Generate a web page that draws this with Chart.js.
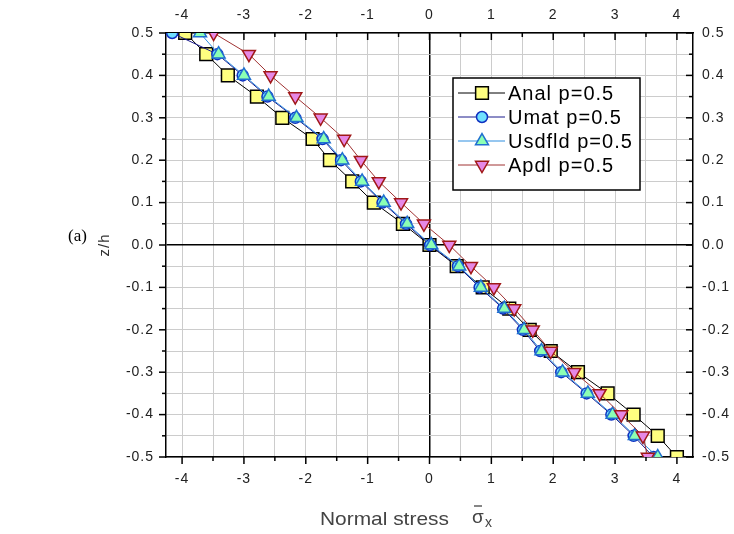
<!DOCTYPE html>
<html>
<head>
<meta charset="utf-8">
<script src="https://cdn.jsdelivr.net/npm/chart.js@4.4.0/dist/chart.umd.min.js"></script>
<style>
  html, body { margin: 0; padding: 0; background: #fff; }
</style>
</head>
<body>
<canvas id="myChart" width="734" height="534"></canvas>
<script>
// posiciones z/h (de arriba a abajo)
var zh = [0.5, 0.45, 0.4, 0.35, 0.3, 0.25, 0.2, 0.15, 0.1, 0.05, 0, -0.05, -0.1, -0.15, -0.2, -0.25, -0.3, -0.35, -0.4, -0.45, -0.5];

// valores de tension normal de cada serie
var anal   = [-3.95, -3.61, -3.26, -2.79, -2.38, -1.89, -1.61, -1.25, -0.90, -0.43, 0.00, 0.44, 0.86, 1.29, 1.62, 1.96, 2.40, 2.88, 3.30, 3.69, 4.00];
var umat   = [-4.16, -3.43, -3.02, -2.62, -2.17, -1.73, -1.43, -1.11, -0.76, -0.38, 0.01, 0.46, 0.81, 1.19, 1.51, 1.79, 2.13, 2.54, 2.94, 3.30, 3.62];
var usdfld = [-3.71, -3.41, -3.00, -2.60, -2.15, -1.71, -1.41, -1.09, -0.74, -0.36, 0.03, 0.48, 0.83, 1.21, 1.53, 1.81, 2.15, 2.56, 2.96, 3.32, 3.69];
var apdl   = [-3.49, -2.92, -2.57, -2.17, -1.76, -1.38, -1.11, -0.82, -0.46, -0.09, 0.32, 0.67, 1.04, 1.37, 1.67, 1.96, 2.34, 2.75, 3.10, 3.45, 3.53];

// etiquetas de los ejes
var xLabels = [-4, -3, -2, -1, 0, 1, 2, 3, 4];
var yLabels = [-0.5, -0.4, -0.3, -0.2, -0.1, 0, 0.1, 0.2, 0.3, 0.4, 0.5];

function puntos(valores) {
    return zh.map(function (z, i) { return { x: valores[i], y: z }; });
}

function etiquetaX(v) {
    var r = Math.round(v * 100) / 100;
    return xLabels.indexOf(r) >= 0 ? String(r) : '';
}
function etiquetaY(v) {
    var r = Math.round(v * 100) / 100;
    if (yLabels.indexOf(r) < 0) return '';
    return r === 0 ? '0.0' : r.toFixed(1);
}
function esCero(ctx) {
    return ctx.tick && Math.abs(ctx.tick.value) < 1e-9;
}

var fuenteTicks = { family: 'Arial, "Liberation Sans", sans-serif', size: 14 };

// marcas de los ejes (mayores y menores)
var marcas = {
    id: 'marcas',
    beforeDatasetsDraw: function (chart) {
        var c = chart.ctx, a = chart.chartArea;
        c.save();
        c.strokeStyle = '#000';
        c.lineWidth = 1.5;
        ['x', 'x2', 'y', 'y2'].forEach(function (id) {
            var s = chart.scales[id];
            s.ticks.forEach(function (t) {
                var f = id[0] === 'x' ? 1 : 10;
                var mayor = Math.abs(t.value * f - Math.round(t.value * f)) < 1e-6;
                var L = mayor ? 7 : 4;
                var p = s.getPixelForValue(t.value);
                c.beginPath();
                if (id === 'x')  { c.moveTo(p, a.bottom); c.lineTo(p, a.bottom + L); }
                if (id === 'x2') { c.moveTo(p, a.top);    c.lineTo(p, a.top + L); }
                if (id === 'y')  { c.moveTo(a.left, p);   c.lineTo(a.left - L, p); }
                if (id === 'y2') { c.moveTo(a.right, p);  c.lineTo(a.right - L, p); }
                c.stroke();
            });
        });
        c.restore();
    }
};

// leyenda dentro del area, titulo del eje x y etiqueta (a)
var extras = {
    id: 'extras',
    beforeDraw: function (chart) {
        chart.ctx.letterSpacing = '1px';
    },
    afterDraw: function (chart) {
        var c = chart.ctx, a = chart.chartArea;
        c.save();
        c.letterSpacing = '0px';

        // caja de la leyenda
        var bx = a.left + 287, by = a.top + 45, bw = 187, bh = 112;
        c.fillStyle = '#fff';
        c.fillRect(bx, by, bw, bh);
        c.strokeStyle = '#000';
        c.lineWidth = 1.5;
        c.strokeRect(bx, by, bw, bh);

        chart.data.datasets.forEach(function (ds, i) {
            var y = by + 15 + i * 24;
            c.strokeStyle = ds.borderColor;
            c.lineWidth = 1;
            c.beginPath();
            c.moveTo(bx + 5, y);
            c.lineTo(bx + 52, y);
            c.stroke();
            c.fillStyle = ds.pointBackgroundColor;
            c.strokeStyle = ds.pointBorderColor;
            c.lineWidth = ds.pointBorderWidth;
            Chart.helpers.drawPoint(c, {
                pointStyle: ds.pointStyle,
                rotation: ds.pointRotation || 0,
                radius: ds.pointRadius,
                borderWidth: ds.pointBorderWidth
            }, bx + 29, y);
            c.fillStyle = '#000';
            c.font = '20px Arial, "Liberation Sans", sans-serif';
            c.textBaseline = 'middle';
            c.textAlign = 'left';
            c.letterSpacing = '1px';
            c.fillText(ds.label, bx + 55, y + 1);
            c.letterSpacing = '0px';
        });

        // titulo del eje x
        c.fillStyle = '#444';
        c.textBaseline = 'alphabetic';
        c.save();
        c.translate(320, 525);
        c.scale(1.1, 1);
        c.font = '19px Arial, "Liberation Sans", sans-serif';
        c.fillText('Normal stress', 0, 0);
        c.restore();
        c.font = '19px Arial, "Liberation Sans", sans-serif';
        c.fillText('\u03C3', 472, 523);
        c.strokeStyle = '#444';
        c.lineWidth = 1.3;
        c.beginPath();
        c.moveTo(474, 506);
        c.lineTo(482, 506);
        c.stroke();
        c.font = '14px Arial, "Liberation Sans", sans-serif';
        c.fillText('x', 485, 527);

        // etiqueta (a)
        c.fillStyle = '#000';
        c.font = '17px "Times New Roman", "Liberation Serif", serif';
        c.textBaseline = 'middle';
        c.fillText('(a)', 68, 237);
        c.restore();
    }
};

var ctx = document.getElementById('myChart').getContext('2d');
var myChart = new Chart(ctx, {
    type: 'scatter',
    data: {
        datasets: [{
            label: 'Anal p=0.5',
            data: puntos(anal),
            showLine: true,
            borderColor: '#000000',
            borderWidth: 1,
            pointStyle: 'rect',
            pointRadius: 9,
            pointBackgroundColor: '#ffff80',
            pointBorderColor: '#000000',
            pointBorderWidth: 1.5,
            order: 4
        }, {
            label: 'Umat p=0.5',
            data: puntos(umat),
            showLine: true,
            borderColor: '#1a1a8c',
            borderWidth: 1,
            pointStyle: 'circle',
            pointRadius: 5.5,
            pointBackgroundColor: '#70e0ff',
            pointBorderColor: '#1030c0',
            pointBorderWidth: 1.5,
            order: 3
        }, {
            label: 'Usdfld p=0.5',
            data: puntos(usdfld),
            showLine: true,
            borderColor: '#2f8fe0',
            borderWidth: 1,
            pointStyle: 'triangle',
            pointRadius: 7.5,
            pointBackgroundColor: '#8cffb4',
            pointBorderColor: '#1f6fd0',
            pointBorderWidth: 1.5,
            order: 2
        }, {
            label: 'Apdl p=0.5',
            data: puntos(apdl),
            showLine: true,
            borderColor: '#a03232',
            borderWidth: 1,
            pointStyle: 'triangle',
            pointRotation: 180,
            pointRadius: 7.5,
            pointBackgroundColor: '#e688e6',
            pointBorderColor: '#a01818',
            pointBorderWidth: 1.5,
            order: 1
        }]
    },
    options: {
        responsive: false,
        animation: false,
        layout: { padding: { left: 92, right: 0, top: 0, bottom: 0 } },
        elements: { line: { tension: 0 } },
        plugins: { legend: { display: false }, tooltip: { enabled: false } },
        scales: {
            x: {
                type: 'linear', position: 'bottom', min: -4.26, max: 4.26,
                ticks: { stepSize: 0.5, includeBounds: false, autoSkip: false, maxRotation: 0, padding: 14,
                         color: '#222', font: fuenteTicks, callback: etiquetaX },
                grid: { drawTicks: false,
                        color: function (c) { return esCero(c) ? '#000' : '#cccccc'; },
                        lineWidth: function (c) { return esCero(c) ? 1.5 : 1; } },
                border: { color: '#000', width: 1.5 },
                afterFit: function (s) { s.height = 77; }
            },
            x2: {
                type: 'linear', position: 'top', min: -4.26, max: 4.26,
                ticks: { stepSize: 0.5, includeBounds: false, autoSkip: false, maxRotation: 0, padding: 9,
                         color: '#222', font: fuenteTicks, callback: etiquetaX },
                grid: { drawTicks: false, drawOnChartArea: false },
                border: { color: '#000', width: 1.5 },
                afterFit: function (s) { s.height = 33; }
            },
            y: {
                type: 'linear', position: 'left', min: -0.5, max: 0.5,
                ticks: { stepSize: 0.05, includeBounds: false, autoSkip: false, padding: 12,
                         color: '#222', font: fuenteTicks, callback: etiquetaY },
                grid: { drawTicks: false,
                        color: function (c) { return esCero(c) ? '#000' : '#cccccc'; },
                        lineWidth: function (c) { return esCero(c) ? 1.5 : 1; } },
                border: { color: '#000', width: 1.5 },
                title: { display: true, text: 'z/h', color: '#333',
                         font: { family: 'Arial, "Liberation Sans", sans-serif', size: 15 } },
                afterFit: function (s) { s.width = 74; }
            },
            y2: {
                type: 'linear', position: 'right', min: -0.5, max: 0.5,
                ticks: { stepSize: 0.05, includeBounds: false, autoSkip: false, padding: 9,
                         color: '#222', font: fuenteTicks, callback: etiquetaY },
                grid: { drawTicks: false, drawOnChartArea: false },
                border: { color: '#000', width: 1.5 },
                afterFit: function (s) { s.width = 41; }
            }
        }
    },
    plugins: [marcas, extras]
});
</script>
</body>
</html>
